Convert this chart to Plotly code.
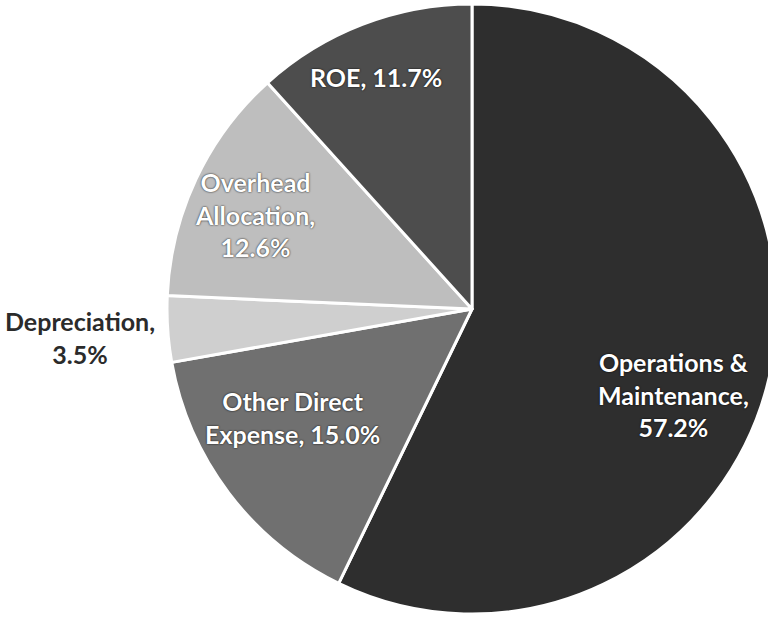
import plotly.graph_objects as go

# Cost breakdown (percent of total revenue requirement)
categories = ["Operations & Maintenance", "Other Direct Expense", "Depreciation",
              "Overhead Allocation", "ROE"]
shares = [57.2, 15.0, 3.5, 12.6, 11.7]

# How each data label is broken across lines; {v} receives the share
label_templates = [
    "Operations &<br>Maintenance,<br>{v}",
    "Other Direct<br>Expense, {v}",
    "Depreciation,<br>{v}",
    "Overhead<br>Allocation,<br>{v}",
    "ROE, {v}",
]

# ---- styling / layout ----
W, H = 944, 620          # page is clipped to 768 px, so the pie runs off the right edge
PIE_TOP, PIE_SIZE = 4, 610
slice_colors = ["#2e2e2e", "#707070", "#cfcfcf", "#bebebe", "#4d4d4d"]
label_colors = ["white", "white", "#2b2b2b", "white", "white"]
label_px = [(673, 394), (292, 417), (80, 337), (255, 214), (376, 77)]

fig = go.Figure(
    go.Pie(
        labels=categories,
        values=shares,
        sort=False,
        direction="clockwise",
        rotation=0,
        textinfo="none",
        hoverinfo="label+percent",
        marker=dict(colors=slice_colors, line=dict(color="white", width=3)),
        domain=dict(x=[0, 1], y=[1 - (PIE_TOP + PIE_SIZE) / H, 1 - PIE_TOP / H]),
        showlegend=False,
    )
)

for tmpl, v, (px, py), col in zip(label_templates, shares, label_px, label_colors):
    shadow = "0px 0px 2px #000" if col == "white" else "none"
    fig.add_annotation(
        x=px / W, y=1 - py / H, xref="paper", yref="paper",
        xanchor="center", yanchor="middle", showarrow=False,
        text=tmpl.format(v=f"{v:.1f}%"),
        align="center",
        font=dict(family="Lato", size=25, color=col, weight=700, shadow=shadow),
    )

fig.update_layout(
    width=W, height=H,
    margin=dict(l=0, r=0, t=0, b=0),
    paper_bgcolor="white",
    plot_bgcolor="white",
)

fig.write_html("out.html", post_script="document.body.style.overflow='hidden';document.documentElement.style.overflow='hidden';")
